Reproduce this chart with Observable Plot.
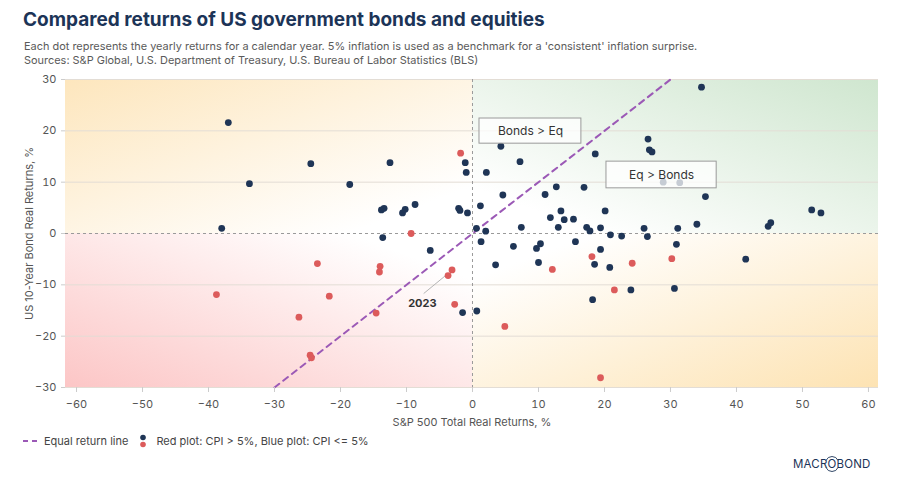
<!DOCTYPE html>
<html>
<head>
<meta charset="utf-8">
<script src="https://cdn.jsdelivr.net/npm/d3@7"></script>
<script src="https://cdn.jsdelivr.net/npm/@observablehq/plot@0.6"></script>
<style>
  body { margin: 0; background: #fff; font-family: Inter, "Open Sans", sans-serif; }
  #wrap { position: relative; width: 900px; height: 488px; overflow: hidden; }
  #title { position: absolute; left: 23px; top: 8px; font-size: 19px; line-height: 24px; font-weight: 700; color: #1c3457; white-space: nowrap; }
  #subtitle { position: absolute; left: 24px; top: 39px; font-size: 10.95px; line-height: 14px; font-weight: 400; color: #5a5a5a; white-space: nowrap; }
  #chart { position: absolute; left: 0; top: 68px; }
  #legend { position: absolute; left: 22px; top: 433px; font-size: 11px; color: #444; display: flex; align-items: center; white-space: nowrap; }
  #logo { position: absolute; left: 790px; top: 452px; }
</style>
</head>
<body>
<div id="wrap">
  <div id="title">Compared returns of US government bonds and equities</div>
  <div id="subtitle">Each dot represents the yearly returns for a calendar year. 5% inflation is used as a benchmark for a 'consistent' inflation surprise.<br>Sources: S&amp;P Global, U.S. Department of Treasury, U.S. Bureau of Labor Statistics (BLS)</div>
  <div id="chart"></div>
  <div id="legend">
    <svg width="18" height="14"><line x1="1" y1="7" x2="17" y2="7" stroke="#9b59b6" stroke-width="2" stroke-dasharray="5,4"/></svg>
    <span style="margin-left:4px">Equal return line</span>
    <svg width="20" height="16" style="margin-left:6px"><circle cx="9" cy="4.5" r="2.8" fill="#1f3556"/><circle cx="9" cy="11.5" r="2.8" fill="#dc5b5b"/></svg>
    <span style="margin-left:2px">Red plot: CPI &gt; 5%, Blue plot: CPI &lt;= 5%</span>
  </div>
  <div id="logo">
    <svg id="logosvg" width="100" height="24">
      <path id="arcTop" d="" fill="none" stroke="#1c3457" stroke-width="0.9"/>
      <path id="arcBot" d="" fill="none" stroke="#1c3457" stroke-width="0.9"/>
      <text id="logotext" x="3" y="16" font-size="11.5" font-family="Inter, sans-serif" fill="#1c3457" letter-spacing="0.2">MACROBOND</text>
    </svg>
  </div>
</div>
<script>
// ---- data (S&P 500 real return %, US 10y bond real return %) ----
const bluePoints = [
  [-37.0, 21.6], [-33.8, 9.7], [-38.0, 1.0], [-24.5, 13.6], [-18.6, 9.55],
  [-12.5, 13.8], [-13.8, 4.6], [-13.4, 4.9], [-10.6, 4.0], [-10.2, 4.7],
  [-8.7, 5.65], [-1.1, 13.8], [-0.95, 11.9], [-2.1, 4.9], [-1.9, 4.5],
  [-0.76, 4.0], [-13.6, -0.8], [4.3, 17.0], [2.1, 11.9], [7.2, 14.0],
  [4.6, 7.5], [1.2, 5.4], [12.7, 9.1], [11.0, 7.6], [16.9, 9.0],
  [18.6, 15.5], [13.4, 4.4], [11.8, 3.1], [13.9, 2.7], [15.3, 2.8],
  [7.4, 1.2], [13.0, 1.2], [17.3, 1.2], [17.8, 0.5], [0.6, 1.0],
  [2.0, 0.45], [19.4, 1.1], [34.7, 28.5], [26.6, 18.4], [26.8, 16.3],
  [27.2, 15.9], [28.9, 10.0], [31.4, 9.9], [35.3, 7.2], [20.1, 4.4],
  [20.9, -0.25], [22.6, -0.5], [26.0, 1.0], [26.5, -0.6], [31.1, 1.0],
  [34.0, 1.8], [44.8, 1.4], [45.2, 2.1], [51.4, 4.6], [52.8, 4.0],
  [-6.4, -3.3], [-1.5, -15.4], [0.65, -15.1], [1.3, -1.6], [3.5, -6.1],
  [6.2, -2.5], [9.7, -2.9], [10.3, -2.0], [10.0, -5.65], [15.6, -1.6],
  [18.5, -6.0], [18.2, -12.9], [19.4, -3.1], [30.9, -2.1], [20.8, -6.6],
  [41.4, -5.0], [24.0, -11.0], [30.6, -10.7]
];
const redPoints = [
  [-1.8, 15.65], [-9.3, 0.0], [-38.8, -11.9], [-26.3, -16.3], [-24.6, -23.7],
  [-24.4, -24.2], [-23.5, -5.85], [-21.7, -12.2], [-14.0, -6.4], [-14.1, -7.5],
  [-14.6, -15.5], [-3.1, -7.1], [-3.7, -8.2], [-2.7, -13.8], [12.1, -7.0],
  [4.9, -18.1], [18.1, -4.5], [19.4, -28.1], [24.2, -5.8], [30.2, -4.9],
  [21.5, -11.0]
];
const equalLine = [[-30, -30], [30, 30]];
const xTicks = [-60, -50, -40, -30, -20, -10, 0, 10, 20, 30, 40, 50, 60];
const yTicks = [-30, -20, -10, 0, 10, 20, 30];
const gridY = [-30, -20, -10, 10, 20, 30];
const xDomain = [-61.67, 61.52];
const yDomain = [-30, 30];
const boxLabels = [
  {text: "Bonds > Eq", x1: 1.06, x2: 16.5, y1: 17.5, y2: 22.4},
  {text: "Eq > Bonds", x1: 20.3, x2: 37.0, y1: 8.8, y2: 14.0}
];
const yearLabels = [{text: "2023", x: -7.6, y: -13.6, px: -7.4, py: -11.7, tx: -3.9, ty: -8.0}];

const quadrants = [
  {id: "gTL", x1: xDomain[0], x2: 0, y1: 0, y2: yDomain[1]},
  {id: "gTR", x1: 0, x2: xDomain[1], y1: 0, y2: yDomain[1]},
  {id: "gBL", x1: xDomain[0], x2: 0, y1: yDomain[0], y2: 0},
  {id: "gBR", x1: 0, x2: xDomain[1], y1: yDomain[0], y2: 0}
];

const font = "Inter, 'Open Sans', sans-serif";

const plot = Plot.plot({
  width: 900,
  height: 362,
  marginTop: 11,
  marginBottom: 43,
  marginLeft: 65,
  marginRight: 22,
  style: {fontFamily: font, fontSize: "11px", color: "#555", background: "transparent"},
  x: {domain: xDomain},
  y: {domain: yDomain},
  marks: [
    ...quadrants.map(q => Plot.rect([q], {x1: "x1", x2: "x2", y1: "y1", y2: "y2", fill: `url(#${q.id})`})),
    Plot.ruleY(gridY, {stroke: "#e3ddd5", strokeWidth: 1}),
    Plot.ruleY([0], {stroke: "#9a9a9a", strokeDasharray: "3,3"}),
    Plot.ruleX([0], {stroke: "#9a9a9a", strokeDasharray: "3,3"}),
    Plot.line(equalLine, {x: d => d[0], y: d => d[1], stroke: "#9b59b6", strokeWidth: 2, strokeDasharray: "6,5"}),
    Plot.link(yearLabels, {x1: "px", y1: "py", x2: "tx", y2: "ty", stroke: "#b5b5b5", strokeWidth: 1}),
    Plot.dot(bluePoints, {x: d => d[0], y: d => d[1], r: 3.4, fill: "#1f3556"}),
    Plot.dot(redPoints, {x: d => d[0], y: d => d[1], r: 3.4, fill: "#dc5b5b"}),
    Plot.text(yearLabels, {x: "x", y: "y", text: "text", fontSize: 11, fontWeight: 700, fill: "#333"}),
    Plot.rect(boxLabels, {x1: "x1", x2: "x2", y1: "y1", y2: "y2", fill: "white", fillOpacity: 0.75, stroke: "#9a9a9a", strokeWidth: 1}),
    Plot.text(boxLabels, {x: d => (d.x1 + d.x2) / 2, y: d => (d.y1 + d.y2) / 2, text: "text", fontSize: 12, fill: "#333"}),
    Plot.axisX({ticks: xTicks, tickSize: 5, tickPadding: 8, stroke: "#ccc", fill: "#555",
      label: "S&P 500 Total Real Returns, %", labelAnchor: "center", labelOffset: 38, labelArrow: "none"}),
    Plot.axisY({ticks: yTicks, tickSize: 4, tickPadding: 5, stroke: "#ccc", fill: "#555",
      label: "US 10-Year Bond Real Returns, %", labelAnchor: "center", labelOffset: 40, labelArrow: "none"})
  ]
});

// gradient definitions for the quadrant backgrounds
const ns = "http://www.w3.org/2000/svg";
const defs = document.createElementNS(ns, "defs");
const grads = [
  ["gTL", [0, 0, 1, 1], "#fde6bd"],
  ["gTR", [1, 0, 0, 1], "#cfe6cf"],
  ["gBL", [0, 1, 1, 0], "#fcc6c6"],
  ["gBR", [1, 1, 0, 0], "#fde3b3"]
];
for (const [id, [x1, y1, x2, y2], c] of grads) {
  const g = document.createElementNS(ns, "linearGradient");
  g.setAttribute("id", id);
  g.setAttribute("x1", x1); g.setAttribute("y1", y1);
  g.setAttribute("x2", x2); g.setAttribute("y2", y2);
  const s1 = document.createElementNS(ns, "stop");
  s1.setAttribute("offset", "0"); s1.setAttribute("stop-color", c);
  const s2 = document.createElementNS(ns, "stop");
  s2.setAttribute("offset", "0.85"); s2.setAttribute("stop-color", "#ffffff");
  g.appendChild(s1); g.appendChild(s2);
  defs.appendChild(g);
}
plot.insertBefore(defs, plot.firstChild);
document.getElementById("chart").appendChild(plot);

// place logo arcs around the first "O" of MACROBOND
try {
  const t = document.getElementById("logotext");
  const s = t.getStartPositionOfChar(4).x, e = t.getEndPositionOfChar(4).x;
  const cx = (s + e) / 2, r = 6.5, cy = 12;
  const a = cx - r + 0.5, b = cx + r - 0.5;
  document.getElementById("arcTop").setAttribute("d", `M${a} ${cy - 3.5} A${r} ${r} 0 0 1 ${b} ${cy - 3.5}`);
  document.getElementById("arcBot").setAttribute("d", `M${a} ${cy + 3.5} A${r} ${r} 0 0 0 ${b} ${cy + 3.5}`);
} catch (err) {}
</script>
</body>
</html>
